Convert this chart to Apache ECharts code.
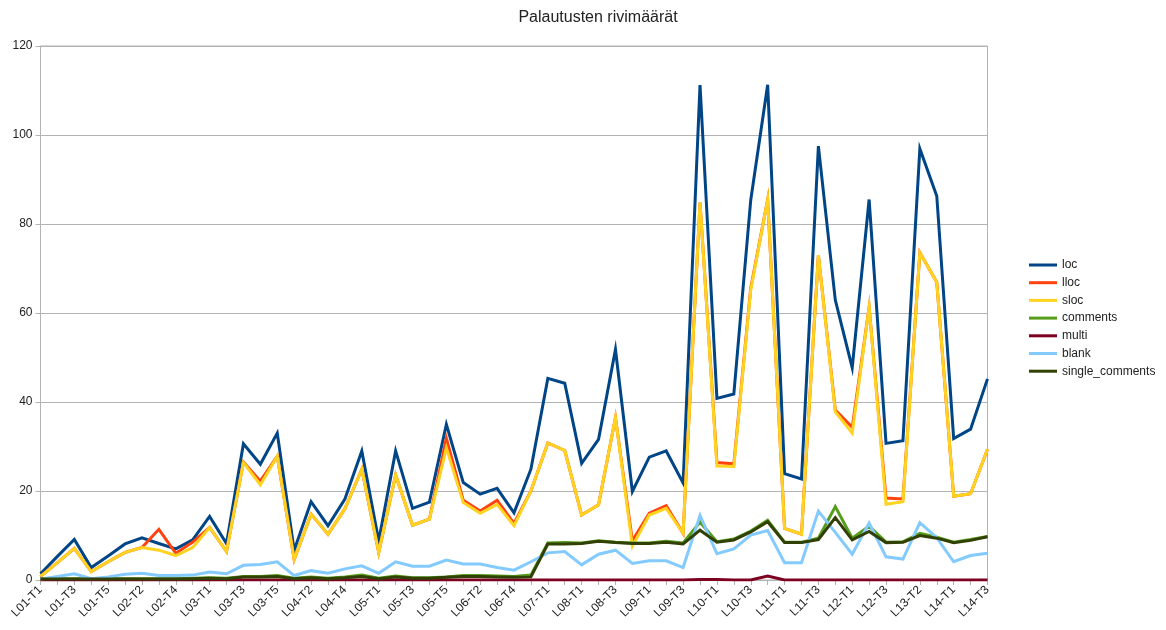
<!DOCTYPE html>
<html>
<head>
<meta charset="utf-8">
<title>Palautusten rivimäärät</title>
<script src="https://cdn.jsdelivr.net/npm/echarts@6/dist/echarts.min.js"></script>
<style>
  html, body { margin: 0; padding: 0; background: #fff; }
  #chart { width: 1166px; height: 630px; }
</style>
</head>
<body>
<div id="chart"></div>
<script>
// Submissions: lesson / task identifiers
const categories = [
  'L01-T1','L01-T2','L01-T3','L01-T4','L01-T5',
  'L02-T1','L02-T2','L02-T3','L02-T4','L02-T5',
  'L03-T1','L03-T2','L03-T3','L03-T4','L03-T5',
  'L04-T1','L04-T2','L04-T3','L04-T4','L04-T5',
  'L05-T1','L05-T2','L05-T3','L05-T4','L05-T5',
  'L06-T1','L06-T2','L06-T3','L06-T4','L06-T5',
  'L07-T1','L07-T2',
  'L08-T1','L08-T2','L08-T3','L08-T4',
  'L09-T1','L09-T2','L09-T3','L09-T4',
  'L10-T1','L10-T2','L10-T3','L10-T4',
  'L11-T1','L11-T2','L11-T3','L11-T4',
  'L12-T1','L12-T2','L12-T3',
  'L13-T1','L13-T2','L13-T3',
  'L14-T1','L14-T2','L14-T3'
];

// Line counts per submission
const loc = [
  1.4, 5.3, 9.1, 2.8, 5.4, 8.1, 9.5, 8.2, 7.0, 9.0,
  14.3, 8.2, 30.6, 26.0, 33.0, 6.7, 17.6, 12.2, 18.2, 29.0,
  8.8, 29.0, 16.1, 17.5, 35.0, 21.9, 19.3, 20.6, 15.1, 24.9,
  45.3, 44.2, 26.2, 31.6, 51.8, 19.9, 27.6, 29.0, 21.8, 111.2,
  40.8, 41.8, 85.4, 111.3, 23.9, 22.7, 97.5, 62.9, 47.7, 85.5,
  30.7, 31.3, 96.9, 86.3, 31.8, 33.9, 45.2
];
const lloc = [
  0.8, 3.9, 7.1, 1.9, 4.1, 6.2, 7.3, 11.4, 6.0, 8.5,
  11.8, 6.4, 26.5, 22.2, 27.8, 4.6, 14.8, 10.3, 16.0, 24.9,
  6.2, 23.6, 12.3, 13.7, 31.8, 17.9, 15.5, 17.9, 12.7, 20.0,
  30.8, 29.1, 14.6, 16.9, 36.5, 8.8, 15.0, 16.7, 10.5, 84.8,
  26.4, 26.1, 65.6, 85.5, 11.6, 10.3, 73.0, 38.2, 34.3, 61.3,
  18.4, 18.2, 73.6, 66.9, 18.8, 19.4, 29.4
];
const sloc = [
  0.8, 3.9, 7.1, 1.9, 4.1, 6.2, 7.3, 6.7, 5.5, 7.3,
  11.8, 6.4, 26.4, 21.4, 27.8, 4.6, 14.8, 10.3, 16.0, 24.9,
  6.2, 23.6, 12.3, 13.7, 29.7, 17.4, 15.0, 17.0, 12.2, 20.0,
  30.8, 29.1, 14.6, 16.9, 36.5, 7.6, 14.6, 16.1, 10.5, 84.8,
  25.6, 25.5, 65.2, 85.5, 11.6, 10.3, 73.0, 37.8, 33.0, 61.3,
  17.0, 17.6, 73.6, 66.9, 18.8, 19.4, 29.4
];
const comments = [
  0.3, 0.3, 0.3, 0.3, 0.3, 0.3, 0.3, 0.3, 0.3, 0.4,
  0.5, 0.4, 0.8, 0.8, 1.0, 0.4, 0.7, 0.4, 0.7, 1.1,
  0.4, 0.9, 0.5, 0.5, 0.7, 1.0, 1.0, 0.9, 0.8, 1.1,
  8.3, 8.4, 8.3, 8.8, 8.5, 8.3, 8.3, 8.7, 8.3, 13.0,
  8.6, 9.2, 11.0, 13.4, 8.5, 8.5, 9.4, 16.5, 9.4, 12.1,
  8.5, 8.6, 10.5, 9.6, 8.5, 9.1, 9.8
];
const multi = [
  0, 0, 0, 0, 0, 0, 0, 0, 0, 0,
  0, 0, 0, 0, 0, 0, 0, 0, 0, 0,
  0, 0, 0, 0, 0, 0, 0, 0, 0, 0,
  0, 0, 0, 0, 0, 0, 0, 0, 0, 0.1,
  0.1, 0, 0, 0.9, 0, 0, 0, 0, 0, 0,
  0, 0, 0, 0, 0, 0, 0
];
const blank = [
  0.2, 0.8, 1.4, 0.3, 0.7, 1.3, 1.5, 1.0, 1.0, 1.1,
  1.8, 1.4, 3.3, 3.5, 4.1, 1.0, 2.1, 1.5, 2.5, 3.2,
  1.5, 4.1, 3.1, 3.1, 4.5, 3.6, 3.6, 2.8, 2.2, 4.1,
  6.1, 6.4, 3.4, 5.8, 6.7, 3.7, 4.3, 4.3, 2.8, 14.5,
  5.9, 7.0, 10.1, 11.1, 3.9, 3.9, 15.5, 10.7, 5.8, 12.8,
  5.2, 4.7, 12.9, 9.5, 4.1, 5.5, 6.0
];
const singleComments = [
  0.2, 0.2, 0.2, 0.2, 0.2, 0.2, 0.2, 0.2, 0.2, 0.3,
  0.4, 0.3, 0.7, 0.7, 0.8, 0.3, 0.5, 0.3, 0.5, 0.8,
  0.3, 0.7, 0.4, 0.4, 0.6, 0.8, 0.8, 0.7, 0.6, 0.7,
  8.1, 8.1, 8.2, 8.7, 8.4, 8.2, 8.2, 8.5, 8.1, 11.2,
  8.5, 9.0, 10.8, 13.1, 8.4, 8.4, 9.1, 14.0, 9.0, 10.9,
  8.4, 8.5, 10.0, 9.4, 8.4, 8.9, 9.7
];

const seriesNames = ['loc', 'lloc', 'sloc', 'comments', 'multi', 'blank', 'single_comments'];
const seriesData = [loc, lloc, sloc, comments, multi, blank, singleComments];
const palette = ['#004586', '#ff420e', '#ffd320', '#579d1c', '#7e0021', '#83caff', '#314004'];

const FONT = '"Liberation Sans", Arial, sans-serif';
const GRID_COLOR = '#b3b3b3';
const TEXT_COLOR = '#222222';

const chart = echarts.init(document.getElementById('chart'), null, { renderer: 'canvas' });

chart.setOption({
  animation: false,
  backgroundColor: '#ffffff',
  color: palette,
  textStyle: { fontFamily: FONT },
  title: {
    text: 'Palautusten rivimäärät',
    left: 593,
    textAlign: 'center',
    top: 5,
    padding: 5,
    textStyle: { fontFamily: FONT, fontSize: 16, fontWeight: 'normal', color: TEXT_COLOR }
  },
  legend: {
    orient: 'vertical',
    left: 1029,
    top: 259,
    padding: 0,
    itemWidth: 28,
    itemHeight: 3,
    itemGap: 5.7,
    icon: 'rect',
    textStyle: { fontFamily: FONT, fontSize: 12, color: TEXT_COLOR, padding: [0, 0, 0, 0] },
    data: seriesNames
  },
  grid: {
    left: 40.5,
    right: 178.5,
    top: 46,
    bottom: 50,
    show: true,
    borderColor: GRID_COLOR,
    borderWidth: 1,
    containLabel: false
  },
  xAxis: {
    type: 'category',
    data: categories,
    boundaryGap: false,
    axisLine: { show: true, lineStyle: { color: GRID_COLOR, width: 1 } },
    axisTick: { show: true, interval: 0, length: 5, lineStyle: { color: GRID_COLOR } },
    axisLabel: {
      interval: 1,
      rotate: 45,
      margin: 8,
      fontFamily: FONT,
      fontSize: 12,
      color: TEXT_COLOR
    },
    splitLine: { show: false }
  },
  yAxis: {
    type: 'value',
    min: 0,
    max: 120,
    interval: 20,
    axisLine: { show: true, lineStyle: { color: GRID_COLOR, width: 1 } },
    axisTick: { show: true, length: 5, lineStyle: { color: GRID_COLOR } },
    axisLabel: { margin: 8, fontFamily: FONT, fontSize: 12, color: TEXT_COLOR },
    splitLine: { show: true, lineStyle: { color: GRID_COLOR, width: 1 } }
  },
  series: seriesNames.map((name, i) => ({
    name: name,
    type: 'line',
    data: seriesData[i],
    symbol: 'none',
    showSymbol: false,
    lineStyle: { width: 3, color: palette[i], join: 'miter' },
    itemStyle: { color: palette[i] },
    emphasis: { disabled: true }
  }))
});
</script>
</body>
</html>
